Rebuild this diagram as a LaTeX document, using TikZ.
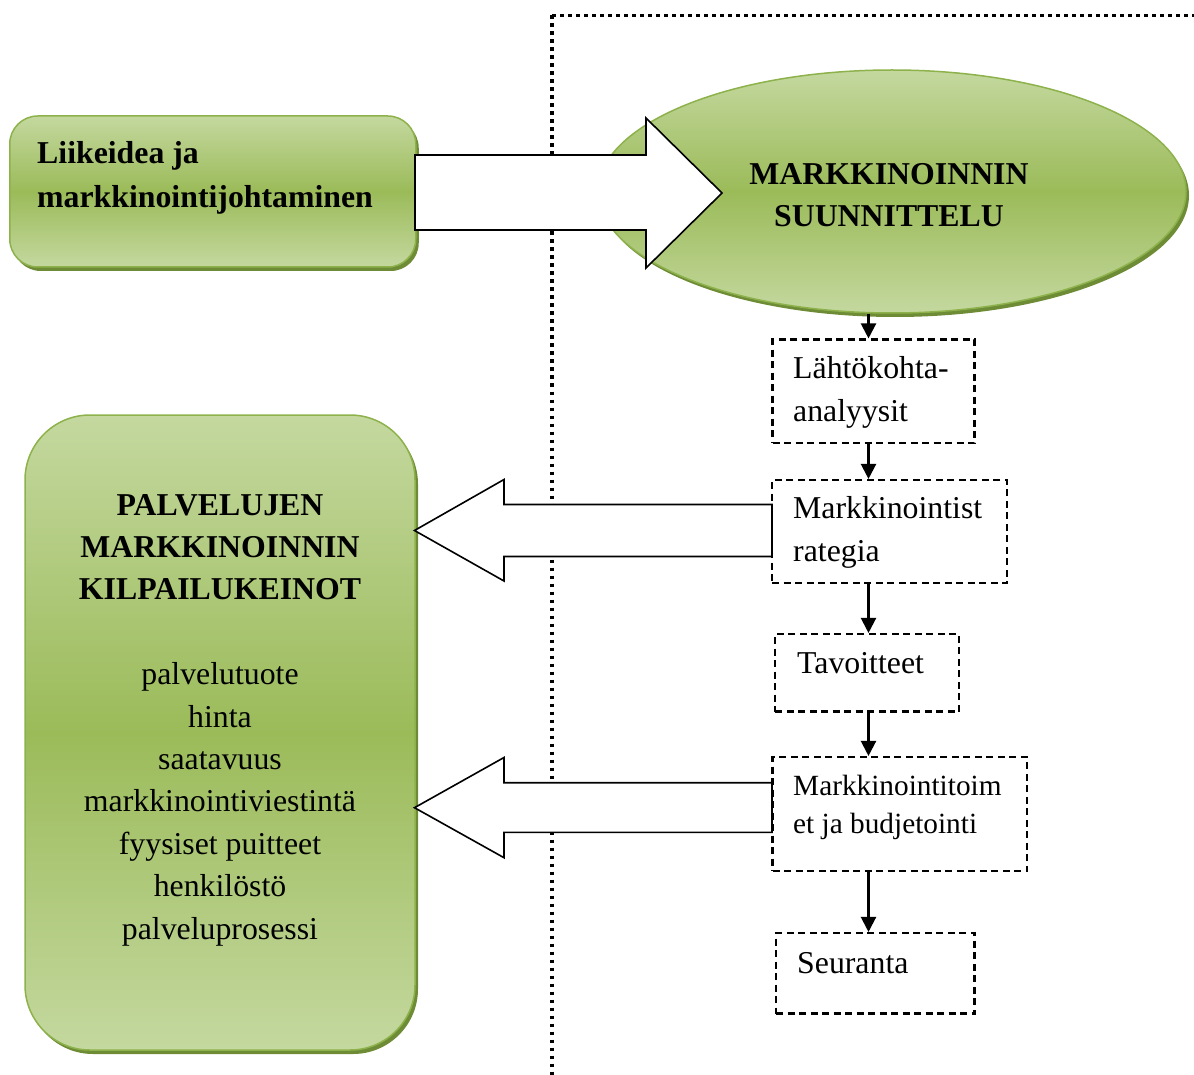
\documentclass[tikz,border=0pt]{standalone}
\usepackage{fontspec}
\setmainfont{Liberation Serif}
\usetikzlibrary{shapes.geometric,arrows.meta,shadows}
\definecolor{glight}{HTML}{C4D89F}
\definecolor{gmid}{HTML}{9BBB59}
\definecolor{gedge}{HTML}{8DB24C}
\definecolor{gshadow}{HTML}{6E8C35}
\tikzset{
 gshape/.style={draw=gedge, line width=1.5pt, top color=glight, bottom color=glight, middle color=gmid,
   drop shadow={shadow xshift=3pt, shadow yshift=-4pt, fill=gshadow, opacity=1}, inner sep=0pt},
 dbox/.style={draw=black, dash pattern=on 7pt off 4.5pt, line width=2.1pt, inner sep=0pt},
 txt/.style={inner sep=0pt, font=\fontsize{31.8}{42.4}\selectfont},
 conn/.style={line width=2.2pt, -{Triangle[length=15pt,width=15pt]}},
 blockarrow/.style={draw=black, fill=white, line width=1.6pt, line join=miter},
 dotline/.style={line width=3.6pt, dash pattern=on 3.6pt off 4.4pt}
}
\begin{document}
\begin{tikzpicture}[x=1pt,y=-1pt]
\useasboundingbox (0,0) rectangle (1194,1075);
% dotted separator
\draw[dotline] (552,15.5) -- (552,1075);
\draw[dotline] (552,15.5) -- (1194,15.5);
% green shapes
\node[gshape, rounded corners=28pt, minimum width=406pt, minimum height=151pt] (idea) at (212.75,191.5) {};
\node[gshape, rounded corners=65pt, minimum width=390pt, minimum height=635pt] (kilp) at (220,732.5) {};
\node[gshape, ellipse, minimum width=588pt, minimum height=243pt] (ell) at (892,191.5) {};
% texts in green shapes (base anchor = baseline of last line)
\node[txt, anchor=base west, align=left, font=\fontsize{31.8}{44}\selectfont\bfseries] (ideatxt) at (37,208)
  {Liikeidea ja\\markkinointijohtaminen};
\node[txt, anchor=base, align=center] (kilptxt) at (220,939)
  {\textbf{PALVELUJEN}\\\textbf{MARKKINOINNIN}\\\textbf{KILPAILUKEINOT}\\[42.4pt]palvelutuote\\hinta\\saatavuus\\markkinointiviestintä\\fyysiset puitteet\\henkilöstö\\palveluprosessi};
\node[txt, anchor=base, align=center, font=\fontsize{31.8}{42}\selectfont\bfseries] (elltxt) at (889,227)
  {MARKKINOINNIN\\SUUNNITTELU};
% dashed step boxes
\node[dbox, minimum width=202pt, minimum height=103.5pt] (l1) at (873.5,391.25) {};
\node[dbox, minimum width=235pt, minimum height=103pt] (l2) at (889.5,531.5) {};
\node[dbox, minimum width=184pt, minimum height=77.5pt] (l3) at (867,672.75) {};
\node[dbox, minimum width=254.5pt, minimum height=114pt] (l4) at (899.75,814) {};
\node[dbox, minimum width=198.5pt, minimum height=80.5pt] (l5) at (875.25,973.25) {};
\node[txt, anchor=base west, align=left] (t1) at (793,421) {Lähtökohta-\\analyysit};
\node[txt, anchor=base west, align=left] (t2) at (793,561) {Markkinointist\\rategia};
\node[txt, anchor=base west] (t3) at (797,673) {Tavoitteet};
\node[txt, anchor=base west, align=left, font=\fontsize{29.3}{38}\selectfont] (t4) at (793,833) {Markkinointitoim\\et ja budjetointi};
\node[txt, anchor=base west] (t5) at (797,973) {Seuranta};
% connectors
\coordinate (col) at (868.5,0);
\draw[conn] (ell.south -| col) -- (l1.north -| col);
\draw[conn] (l1.south -| col) -- (l2.north -| col);
\draw[conn] (l2.south -| col) -- (l3.north -| col);
\draw[conn] (l3.south -| col) -- (l4.north -| col);
\draw[conn] (l4.south -| col) -- (l5.north -| col);
% block arrows
\draw[blockarrow] (415,155) -- (646,155) -- (646,118) -- (722,193) -- (646,268) -- (646,230) -- (415,230) -- cycle;
\draw[blockarrow] (772,504.5) -- (504,504.5) -- (504,479.5) -- (414.5,530.5) -- (504,581) -- (504,556.5) -- (772,556.5) -- cycle;
\draw[blockarrow] (772,782.7) -- (504,782.7) -- (504,757.5) -- (414.5,807.7) -- (504,857.7) -- (504,832.3) -- (772,832.3) -- cycle;
\end{tikzpicture}
\end{document}
